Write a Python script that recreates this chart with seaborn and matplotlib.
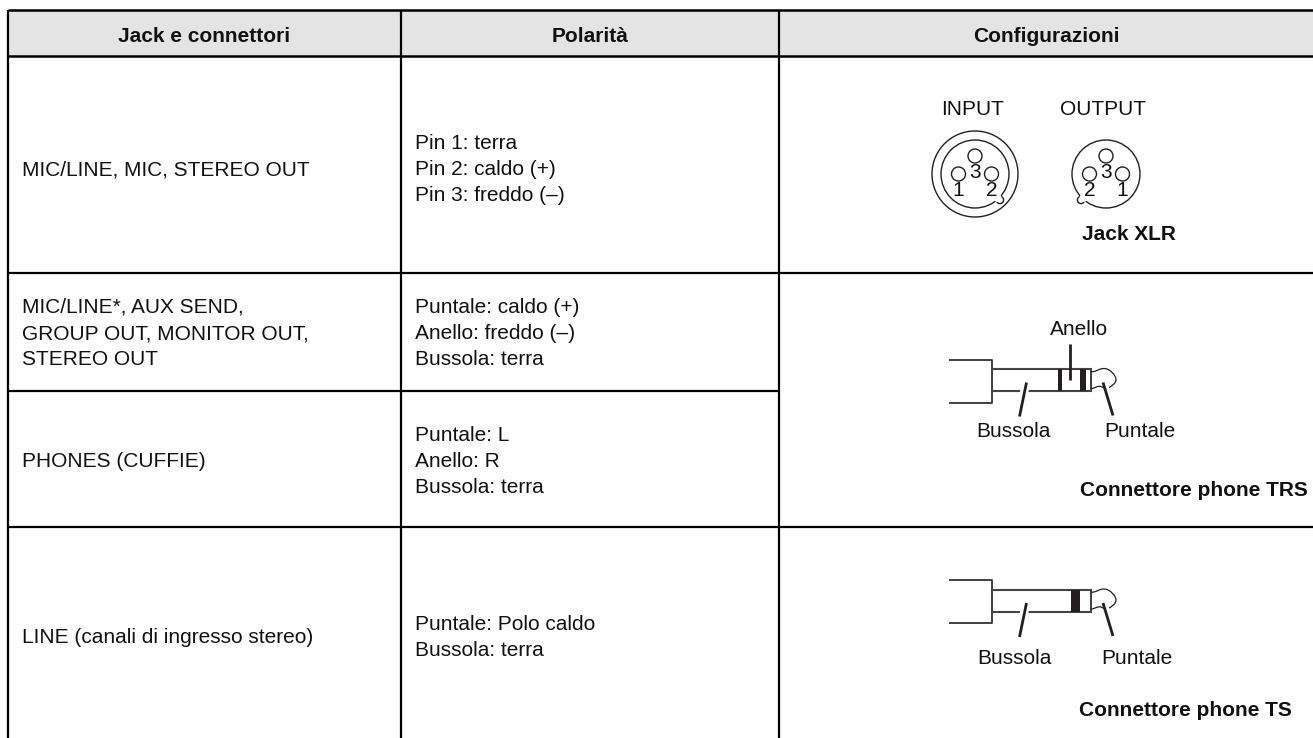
import matplotlib
matplotlib.use("Agg")
import matplotlib.pyplot as plt
from matplotlib.patches import Circle, Rectangle, PathPatch
from matplotlib.path import Path
import seaborn as sns

headers = ["Jack e connettori", "Polarità", "Configurazioni"]
col_jack = ["MIC/LINE, MIC, STEREO OUT",
            "MIC/LINE*, AUX SEND,\nGROUP OUT, MONITOR OUT,\nSTEREO OUT",
            "PHONES (CUFFIE)",
            "LINE (canali di ingresso stereo)"]
col_pol = ["Pin 1: terra\nPin 2: caldo (+)\nPin 3: freddo (–)",
           "Puntale: caldo (+)\nAnello: freddo (–)\nBussola: terra",
           "Puntale: L\nAnello: R\nBussola: terra",
           "Puntale: Polo caldo\nBussola: terra"]
row_y = [168, 332, 460, 636]

FS = 15


def seg(ax, xs, ys, lw=1.2, color="#231f20"):
    sns.lineplot(x=xs, y=ys, ax=ax, sort=False, estimator=None, color=color,
                 linewidth=lw, legend=False, solid_capstyle="butt")


def txt(ax, x, y, s, ha="center", weight="normal", size=FS):
    ax.text(x, y + 1.5, s, ha=ha, va="center", fontweight=weight, fontsize=size,
            color="#111111", linespacing=1.49)


def xlr(ax, cx, cy, outer, notch_dx, numbers):
    if outer:
        ax.add_patch(Circle((cx, cy), 43, fill=False, ec="#231f20", lw=1))
    ax.add_patch(Circle((cx, cy), 34, fill=False, ec="#231f20", lw=1))
    for dx, dy in [(0, -18), (-16.5, 0), (16.5, 0)]:
        ax.add_patch(Circle((cx + dx, cy + dy), 7, fill=False, ec="#231f20", lw=1))
    ax.add_patch(Circle((cx + notch_dx, cy + 26), 3.6, fc="white", ec="#231f20", lw=1))
    ax.add_patch(Circle((cx + notch_dx * 0.9, cy + 24), 4, fc="white", ec="none", zorder=3))
    for (dx, dy), n in zip([(0, -1.5), (-16.5, 17), (16.5, 17)], numbers):
        ax.text(cx + dx, cy + dy, n, ha="center", va="center", fontsize=FS, color="#111111", zorder=4)


def jack(ax, y0, rings):
    # y0 = top of the collar, the sleeve and tip hang off it
    seg(ax, [949, 992, 992, 949], [y0, y0, y0 + 43, y0 + 43], lw=1.3, color="#333333")
    ax.add_patch(Rectangle((992, y0 + 9.5), 98.5, 22, fc="white", ec="#444444", lw=1.5, zorder=2))
    for x0, x1 in rings:
        ax.add_patch(Rectangle((x0, y0 + 9.5), x1 - x0, 22, fc="#231f20", ec="none", zorder=3))
    verts = [(1091, y0 + 12), (1096, y0 + 13), (1098, y0 + 9), (1104, y0 + 9),
             (1110, y0 + 9), (1116, y0 + 16), (1116, y0 + 20),
             (1116, y0 + 24), (1111, y0 + 27), (1109, y0 + 28)]
    ax.add_patch(PathPatch(Path(verts, [Path.MOVETO] + [Path.CURVE4] * 9), fill=False, ec="#231f20", lw=0.9, zorder=3))
    verts = [(1091, y0 + 29), (1095, y0 + 29), (1097, y0 + 26), (1101, y0 + 27), (1103, y0 + 28), (1105, y0 + 29), (1106, y0 + 29)]
    ax.add_patch(PathPatch(Path(verts, [Path.MOVETO] + [Path.CURVE4] * 6), fill=False, ec="#231f20", lw=0.9, zorder=3))
    # leader lines with their white halo over the sleeve
    ax.plot([1026, 1019.5], [y0 + 23, y0 + 57], color="white", lw=6, zorder=4, solid_capstyle="butt")
    ax.plot([1026.5, 1019.5], [y0 + 23, y0 + 57], color="#231f20", lw=2, zorder=5, solid_capstyle="butt")
    ax.plot([1103, 1113], [y0 + 23, y0 + 56], color="#231f20", lw=2, zorder=5, solid_capstyle="butt")


sns.set_theme(style="white")
plt.rcParams["font.family"] = ["Liberation Sans", "DejaVu Sans"]

fig = plt.figure(figsize=(13.13, 7.38), dpi=100)
ax = fig.add_axes([0, 0, 1, 1])
ax.set_xlim(0, 1313)
ax.set_ylim(738, 0)
ax.axis("off")

# table frame
ax.add_patch(Rectangle((8, 10), 1305, 46, fc="#e4e4e4", ec="none", zorder=0))
seg(ax, [8, 1313], [10, 10], lw=1.8, color="black")
seg(ax, [8, 1313], [56, 56], lw=1.8, color="black")
seg(ax, [8, 1313], [272.5, 272.5], lw=1.6, color="black")
seg(ax, [8, 779], [390.5, 390.5], lw=1.6, color="black")
seg(ax, [8, 1313], [527, 527], lw=1.6, color="black")
for x in [8, 401, 779]:
    seg(ax, [x, x], [10, 738], lw=1.6, color="black")

for x, h in zip([204, 590, 1046], headers):
    txt(ax, x, 35, h, weight="bold")
for y, a, b in zip(row_y, col_jack, col_pol):
    txt(ax, 22, y, a, ha="left")
    txt(ax, 415, y, b, ha="left")

# XLR
txt(ax, 973, 108, "INPUT")
txt(ax, 1103, 108, "OUTPUT")
xlr(ax, 975, 174, True, 25, ["3", "1", "2"])
xlr(ax, 1106, 174, False, -25, ["3", "2", "1"])
txt(ax, 1129, 233, "Jack XLR", weight="bold")

# TRS
jack(ax, 359.5, [(1057.5, 1061.5), (1080, 1086)])
ax.plot([1070, 1070], [344, 380], color="#231f20", lw=2, zorder=5, solid_capstyle="butt")
txt(ax, 1079, 328, "Anello")
txt(ax, 1013, 430, "Bussola")
txt(ax, 1140, 430, "Puntale")
txt(ax, 1308, 489, "Connettore phone TRS", ha="right", weight="bold")

# TS
jack(ax, 580, [(1071, 1080)])
txt(ax, 1014, 657, "Bussola")
txt(ax, 1137, 657, "Puntale")
txt(ax, 1292, 709, "Connettore phone TS", ha="right", weight="bold")

fig.savefig("out.png", dpi=100)
